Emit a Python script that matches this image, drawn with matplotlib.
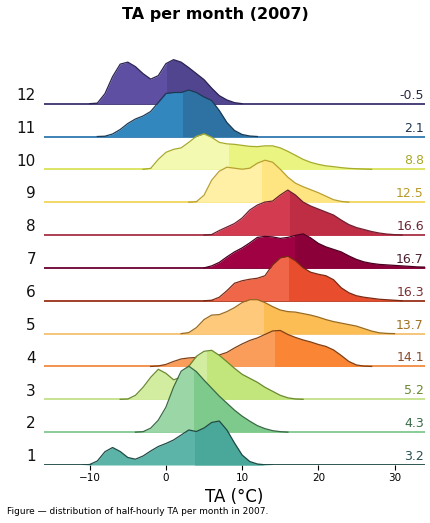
import numpy as np
import matplotlib
matplotlib.use("Agg")
import matplotlib.pyplot as plt
from matplotlib.patches import Rectangle

# Ridge heights, in pixels above each baseline,
# sampled at every whole degree starting at x0 (deg C).
months = [1, 2, 3, 4, 5, 6, 7, 8, 9, 10, 11, 12]
mean_ta = [3.2, 4.3, 5.2, 14.1, 13.7, 16.3, 16.7, 16.6, 12.5, 8.8, 2.1, -0.5]
split_ta = [3.8, 3.7, 5.4, 14.3, 12.9, 16.2, 17.0, 16.3, 12.6, 8.3, 2.3, 0.2]

x0 = {1: -11, 2: -4, 3: -6, 4: -2, 5: 2, 6: 5, 7: 5, 8: 5, 9: 3, 10: -3, 11: -9, 12: -10}
dens = {
    1: [0, 0.5, 4, 13.3, 17.5, 13.5, 7.5, 5.8, 9, 14, 18.5, 21.5, 25, 30, 35, 33.5,
        37, 42.5, 44, 35, 22, 10, 3.5, 1, 0.2, 0],
    2: [0, 0.5, 4, 12, 25, 45, 61, 66, 60.5, 52, 44, 36, 29, 22, 16, 11, 6.5, 3.5,
        1.5, 0.5, 0],
    3: [0, 0.3, 4, 12, 22, 30, 26, 19.5, 22, 33, 43, 48, 49, 44, 37.6, 31, 25, 21,
        17, 12, 8, 4, 1.5, 0.3, 0],
    4: [0, 0.5, 2, 5, 7.5, 8.5, 9, 10, 10.5, 11.5, 14, 18.5, 22.5, 26, 28.5, 32,
        35.5, 36, 32, 29, 26.5, 24.5, 22, 20, 16.5, 11, 5, 1.5, 0.3, 0],
    5: [0, 1, 6, 14, 18.5, 19, 22, 26, 31, 34, 34, 31, 27, 23.6, 22, 21.5, 20,
        18.5, 16.5, 14, 12, 10.5, 9, 7.5, 5, 2.5, 0.8, 0.2, 0],
    6: [0, 0.5, 3.5, 10, 17.5, 20, 21.5, 22.5, 25, 36, 43, 44.5, 40, 33, 28.5,
        26.5, 25, 21, 13, 8, 5, 3.5, 2.5, 1.5, 1, 0.5, 0],
    7: [0, 2, 5.5, 11, 16, 20, 25, 30.5, 31.5, 31, 29.5, 30.5, 32.5, 34, 30, 24.5,
        21, 18.5, 16, 12, 8.5, 6, 4.5, 3.5, 3, 2.5, 2, 1.5, 1, 0.8],
    8: [0, 0.5, 4.5, 8, 11.5, 17, 25, 30, 33, 34, 40, 45, 40, 33, 29, 26, 23, 20,
        15, 10.5, 7.5, 5.5, 3.5, 2, 1, 0.4, 0],
    9: [0, 0.5, 7, 22, 31, 35, 34, 33, 34, 39, 42, 40, 33, 25, 19, 15.5, 12.5, 9.5,
        6, 2.5, 0.8, 0],
    10: [0, 1, 10, 17, 20, 21.5, 27, 33, 35.5, 32, 27, 25.5, 25, 24, 23, 22.7,
         23.5, 23.5, 21.5, 18, 14, 10, 7, 5, 3.5, 2.7, 1.7, 1, 0.6, 0.3, 0],
    11: [0, 0.3, 2.5, 7, 13, 17.5, 20.5, 25, 34, 43, 44, 44, 46.5, 44, 39.5, 36,
         26, 14, 6, 2, 0.5, 0],
    12: [0, 0.5, 10, 27, 39.5, 41.5, 37, 30, 24.5, 28, 40, 44, 41.5, 36, 30, 24, 15.5,
         8, 3.7, 1, 0],
}

fill_left = {1: "#5bb4a7", 2: "#9ad6a6", 3: "#d3eda0", 4: "#fb9d5a", 5: "#fec97a",
             6: "#ef6648", 7: "#9f0142", 8: "#d33b50", 9: "#fff0a6", 10: "#f3f9b0",
             11: "#3387bf", 12: "#5e4fa2"}
fill_right = {1: "#4aa89a", 2: "#7eca8c", 3: "#c2e67b", 4: "#f98535", 5: "#fdbd55",
              6: "#e84e2e", 7: "#8b0039", 8: "#bf2d45", 9: "#fee581", 10: "#e9f580",
              11: "#2e72a3", 12: "#52458f"}
edge_col = {1: "#1f4a45", 2: "#3a6a45", 3: "#6a8a30", 4: "#804015", 5: "#9a6a20",
            6: "#7a2a15", 7: "#4a0020", 8: "#6d2030", 9: "#b8a030", 10: "#a7ab2a",
            11: "#1c3a55", 12: "#2a2350"}
base_col = {1: "#1f4a45", 2: "#80c890", 3: "#c4e08a", 4: "#f28a40", 5: "#f5c070",
            6: "#9a3018", 7: "#6a0030", 8: "#a83045", 9: "#f1d65a", 10: "#d9e35a",
            11: "#2f78b0", 12: "#3b3170"}
text_col = {1: "#2a5050", 2: "#3a6a48", 3: "#6a8a30", 4: "#8a4a2a", 5: "#a07020",
            6: "#7a3030", 7: "#4a2030", 8: "#6b2535", 9: "#b89a28", 10: "#a9a925",
            11: "#1f3550", 12: "#2a2a40"}

PX_PER_ROW = 32.85
XMIN, XMAX = -16, 34

fig = plt.figure(figsize=(4.31, 5.23), dpi=100)
ax = fig.add_axes([44 / 431, (523 - 465) / 523, 381 / 431, 425 / 523])
ax.set_xlim(XMIN, XMAX)
ax.set_ylim(0, 425 / PX_PER_ROW)

for i, m in enumerate(months):
    base = i
    h = np.array(dens[m]) / PX_PER_ROW
    x = x0[m] + np.arange(len(h))
    z = 20 - i  # lower months sit in front

    ax.axhline(base - 0.035, color="white", lw=1.2, zorder=z)
    ax.axhline(base, color=base_col[m], lw=1.3, zorder=z + 0.1)
    ax.fill_between(x, base, base + h, color=fill_left[m], lw=0, zorder=z + 0.2)
    dark = ax.fill_between(x, base, base + h, color=fill_right[m], lw=0, zorder=z + 0.3)
    clip = Rectangle((split_ta[i], base - 1), XMAX - split_ta[i], 5,
                     transform=ax.transData)
    dark.set_clip_path(clip)
    ax.plot(x, base + h, color=edge_col[m], lw=0.9, zorder=z + 0.4,
            solid_joinstyle="round")

    ax.text(-0.021, base + 0.25, str(m), transform=ax.get_yaxis_transform(),
            ha="right", va="center", fontsize=11, color="#111111")
    ax.text(0.997, base + 0.06, f"{mean_ta[i]:.1f}", transform=ax.get_yaxis_transform(),
            ha="right", va="bottom", fontsize=9, color=text_col[m], zorder=40)

for s in ax.spines.values():
    s.set_visible(False)
ax.set_yticks([])
ax.set_xticks([-10, 0, 10, 20, 30])
ax.tick_params(axis="x", labelsize=7.5, length=3.5, width=0.8, pad=2)
ax.set_xlabel("TA (°C)", fontsize=12, labelpad=4)

fig.suptitle("TA per month (2007)", fontsize=11.5, fontweight="bold", y=0.987)
fig.text(7 / 431, 1 - 511 / 523, "Figure — distribution of half-hourly TA per month in 2007.",
         fontsize=6.5, va="center", ha="left")

fig.savefig("out.png", dpi=100)
